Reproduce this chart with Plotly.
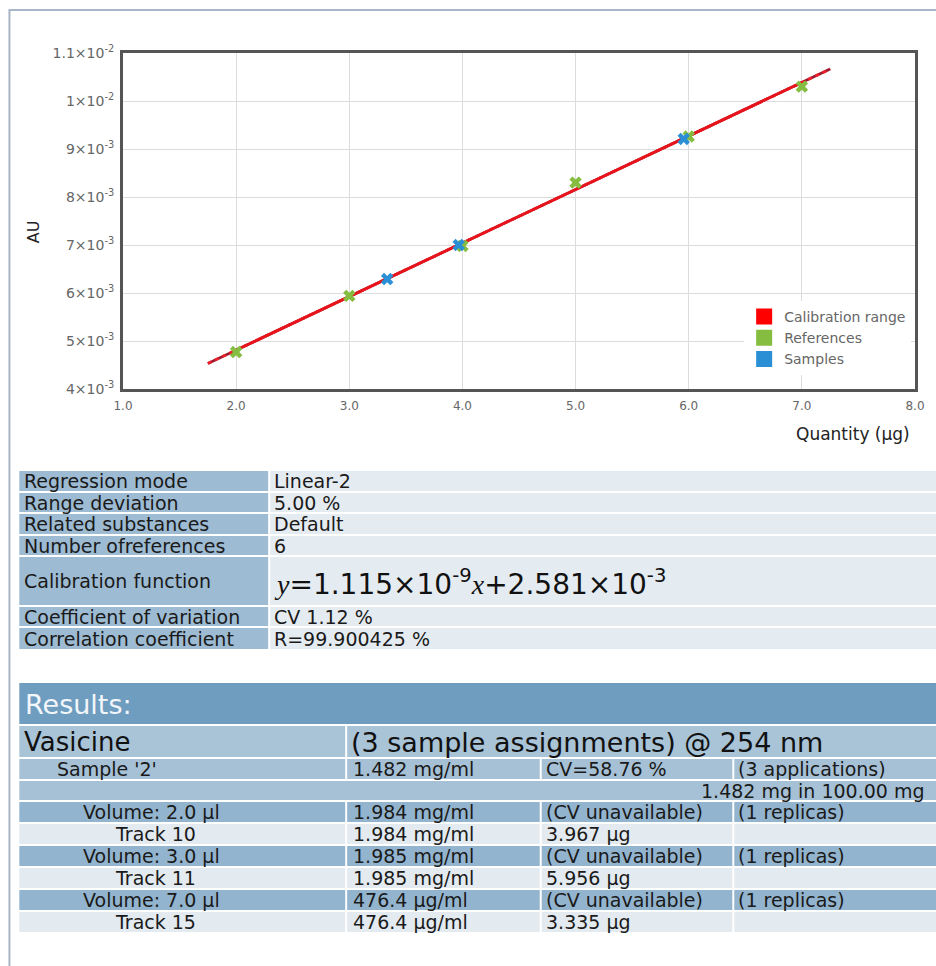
import plotly.graph_objects as go

# ---------------- data ----------------
ref_qty = [2.0, 3.0, 4.0, 5.0, 6.0, 7.0]
ref_au = [4.77e-3, 5.94e-3, 6.98e-3, 8.30e-3, 9.26e-3, 10.30e-3]
sample_qty = [3.335, 3.967, 5.956]
sample_au = [6.29e-3, 7.00e-3, 9.21e-3]
calib_slope = 1.115e-3        # AU per µg
calib_intercept = 2.581e-3
calib_range = [2.0, 7.0]
calib_extended = [1.75, 7.25]

x_ticks = [1.0, 2.0, 3.0, 4.0, 5.0, 6.0, 7.0, 8.0]
y_ticks = [0.004, 0.005, 0.006, 0.007, 0.008, 0.009, 0.010, 0.011]
y_tick_labels = ["4×10<sup>-3</sup>", "5×10<sup>-3</sup>", "6×10<sup>-3</sup>",
                 "7×10<sup>-3</sup>", "8×10<sup>-3</sup>", "9×10<sup>-3</sup>",
                 "1×10<sup>-2</sup>", "1.1×10<sup>-2</sup>"]

calib_labels = ["Regression mode", "Range deviation", "Related substances",
                "Number ofreferences", "Calibration function",
                "Coefficient of variation", "Correlation coefficient"]
calib_values = ["Linear-2", "5.00 %", "Default", "6",
                "<span style='font-family:Liberation Serif'><i>y</i></span>=1.115×10<sup>-9</sup>"
                "<span style='font-family:Liberation Serif'><i>x</i></span>+2.581×10<sup>-3</sup>",
                "CV 1.12 %", "R=99.900425 %"]

results_title = "Results:"
substance = "Vasicine"
substance_info = "(3 sample assignments) @ 254 nm"
result_rows = [
    ["Sample '2'", "1.482 mg/ml", "CV=58.76 %", "(3 applications)"],
    ["Volume: 2.0 µl", "1.984 mg/ml", "(CV unavailable)", "(1 replicas)"],
    ["Track 10", "1.984 mg/ml", "3.967 µg", ""],
    ["Volume: 3.0 µl", "1.985 mg/ml", "(CV unavailable)", "(1 replicas)"],
    ["Track 11", "1.985 mg/ml", "5.956 µg", ""],
    ["Volume: 7.0 µl", "476.4 µg/ml", "(CV unavailable)", "(1 replicas)"],
    ["Track 15", "476.4 µg/ml", "3.335 µg", ""],
]
sample_total = "1.482 mg in 100.00 mg"

# ---------------- layout helpers ----------------
W, H = 936, 966
PL, PR, PT, PB = 123, 925, 53, 389


def fx(px):
    return (px - PL) / (PR - PL)


def fy(py):
    return (PB - py) / (PB - PT)


FONT = "DejaVu Sans, Verdana, sans-serif"
shapes = []
annotations = []


def rect(x0, y0, x1, y1, color):
    shapes.append(dict(type="rect", xref="paper", yref="paper",
                       x0=fx(x0), x1=fx(x1), y0=fy(y1), y1=fy(y0),
                       fillcolor=color, line=dict(width=0), layer="below"))


def text(px, py, s, size=19, color="#1a1a1a", anchor="left"):
    annotations.append(dict(xref="paper", yref="paper", x=fx(px), y=fy(py),
                            text=s, showarrow=False, xanchor=anchor,
                            yanchor="middle", font=dict(family=FONT, size=size, color=color)))


fig = go.Figure()

# calibration line
ext_au = [calib_slope * q + calib_intercept for q in calib_extended]
rng_au = [calib_slope * q + calib_intercept for q in calib_range]
fig.add_trace(go.Scatter(x=calib_extended, y=ext_au, mode="lines",
                         line=dict(color="#9b1b30", width=2.8), showlegend=False, hoverinfo="skip"))
fig.add_trace(go.Scatter(x=calib_extended, y=ext_au, mode="lines",
                         line=dict(color="#f0202a", width=2.8, dash="4px,4px"), showlegend=False, hoverinfo="skip"))
fig.add_trace(go.Scatter(x=calib_range, y=rng_au, mode="lines",
                         line=dict(color="#e8141c", width=2.8), showlegend=False))

fig.add_trace(go.Scatter(x=ref_qty, y=ref_au, mode="markers", showlegend=False,
                         marker=dict(symbol="x", size=11, color="#84bd3f", line=dict(width=0))))
fig.add_trace(go.Scatter(x=sample_qty, y=sample_au, mode="markers", showlegend=False,
                         marker=dict(symbol="x", size=11, color="#2a8fd4", line=dict(width=0))))

# legend entries
for name, col in [("Calibration range", "#ff0000"), ("References", "#84bd3f"), ("Samples", "#2a8fd4")]:
    fig.add_trace(go.Scatter(x=[None], y=[None], mode="markers", name=name,
                             marker=dict(symbol="square", size=16, color=col)))

# outer frame
shapes.append(dict(type="rect", xref="paper", yref="paper",
                   x0=fx(8), x1=fx(960), y0=fy(990), y1=fy(10),
                   line=dict(color="#a9b5c9", width=2), fillcolor="rgba(0,0,0,0)", layer="below"))

# axis titles
text(32, 232, "AU", size=16, color="#222")
annotations[-1]["textangle"] = -90
annotations[-1]["xanchor"] = "center"
text(922, 434, "Quantity (µg)", size=17, color="#222", anchor="right")

# calibration table
calib_rows_px = [(471, 491), (493, 512), (514, 534), (536, 555), (557, 605), (607, 626), (628, 649)]
for (y0, y1), lab, val in zip(calib_rows_px, calib_labels, calib_values):
    rect(18, y0, 270, y1, "#9dbbd2")
    rect(272, y0, 960, y1, "#e5ecf1")
    text(21, (y0 + y1) / 2, lab)
    if "Liberation" in val:
        text(274, (y0 + y1) / 2 + 1, val, size=28, color="#111")
    else:
        text(274, (y0 + y1) / 2, val)

# results table
rect(18, 683, 960, 724, "#6f9dc0")
text(22, 704, results_title, size=27, color="#f2f6fa")
rect(18, 726, 348, 757, "#a9c3d7")
rect(350, 726, 960, 757, "#a9c3d7")
text(21, 742, substance, size=26, color="#111")
text(352, 742, substance_info, size=27, color="#111")

col_x = [(18, 348), (350, 545), (547, 740), (742, 960)]
text_x = [None, 354, 549, 744]
indent = {"Sample": 54, "Volume:": 80, "Track": 113}
row_px = [(759, 779), (802, 822), (824, 844), (846, 866), (868, 888), (890, 910), (912, 932)]
for (y0, y1), row in zip(row_px, result_rows):
    first = row[0].split()[0]
    if first == "Track":
        color = "#e3eaf0"
    elif first == "Volume:":
        color = "#93b4ce"
    else:
        color = "#a6c1d6"
    for (c0, c1) in col_x:
        rect(c0, y0, c1, y1, color)
    yc = (y0 + y1) / 2
    text(indent[first], yc, row[0])
    for j in range(1, 4):
        if row[j]:
            text(text_x[j], yc, row[j])
rect(18, 781, 960, 800, "#a6c1d6")
text(706, 790.5, sample_total)

fig.update_layout(
    width=W, height=H, autosize=False,
    margin=dict(l=PL, r=W - PR, t=PT, b=H - PB),
    paper_bgcolor="white", plot_bgcolor="white",
    font=dict(family=FONT, color="#666"),
    shapes=shapes, annotations=annotations,
    legend=dict(x=fx(752), y=fy(301), xanchor="left", yanchor="top",
                bgcolor="white", font=dict(size=14, color="#666", family=FONT),
                itemwidth=30, tracegroupgap=0),
    xaxis=dict(range=[1.0, 8.0], tickvals=x_ticks, tickformat=".1f",
               showgrid=True, gridcolor="#dcdcdc", gridwidth=1,
               showline=True, linecolor="#555", linewidth=3, mirror=True,
               ticks="outside", ticklen=4, tickcolor="rgba(0,0,0,0)",
               tickfont=dict(size=12, color="#666"), zeroline=False),
    yaxis=dict(range=[0.004, 0.011], tickvals=y_ticks, ticktext=y_tick_labels,
               showgrid=True, gridcolor="#dcdcdc", gridwidth=1,
               showline=True, linecolor="#555", linewidth=3, mirror=True,
               ticks="outside", ticklen=3, tickcolor="rgba(0,0,0,0)",
               tickfont=dict(size=14, color="#666"), zeroline=False),
)

fig.write_html("out.html")
